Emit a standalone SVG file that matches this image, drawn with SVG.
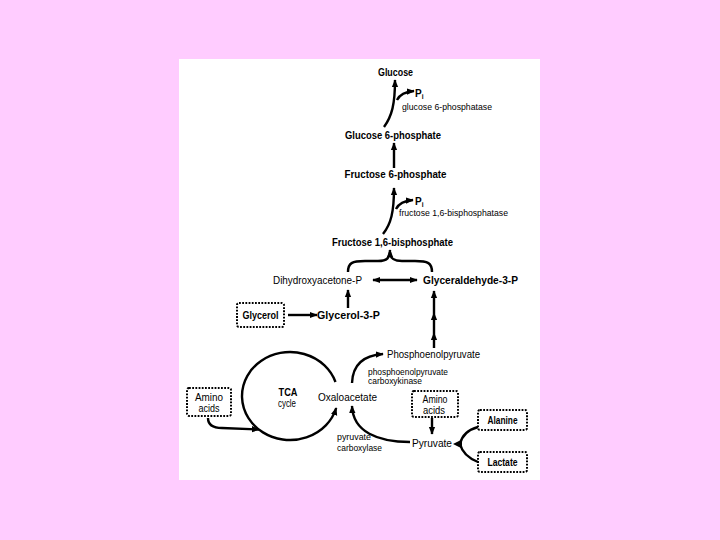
<svg xmlns="http://www.w3.org/2000/svg" width="720" height="540" viewBox="0 0 720 540">
<defs>
<style>
text{font-family:"Liberation Sans",Arial,sans-serif;fill:#000}
.b{font-weight:bold;font-size:10px}
.r{font-size:10.5px}
.s{font-size:8.6px}
.m{text-anchor:middle}
.box{fill:#fff;stroke:#000;stroke-width:2;stroke-dasharray:1.8 1.4}
.c{fill:none;stroke:#000;stroke-width:2.4}
</style>
<marker id="ah" viewBox="0 0 10 10" refX="9" refY="5" markerWidth="8" markerHeight="8" markerUnits="userSpaceOnUse" orient="auto"><path d="M0,1 L10,5 L0,9 z"/></marker>
<marker id="as" viewBox="0 0 10 10" refX="9" refY="5" markerWidth="8" markerHeight="8" markerUnits="userSpaceOnUse" orient="auto-start-reverse"><path d="M0,1 L10,5 L0,9 z"/></marker>
</defs>
<rect width="720" height="540" fill="#FFCCFF"/>
<rect x="179" y="59" width="361" height="421" fill="#fff"/>

<g id="connectors">
<path class="c" d="M384 127 C392 116 395 104 395 80" marker-end="url(#ah)"/>
<path class="c" d="M397 100 Q401 92 414 91" marker-end="url(#ah)"/>
<path class="c" d="M394 168 L394 143" marker-end="url(#ah)"/>
<path class="c" d="M383 234 C391 224 394 212 394 188" marker-end="url(#ah)"/>
<path class="c" d="M396 209 Q400 201 413 200" marker-end="url(#ah)"/>
<path class="c" d="M348 272 C348 263 352 261 365 261 L378 261 C387 261 390 258 390 250" marker-end="url(#ah)"/>
<path class="c" d="M432 272 C432 263 428 261 415 261 L402 261 C393 261 390 258 390 252"/>
<path class="c" d="M373 280 L417 280" marker-start="url(#as)" marker-end="url(#as)"/>
<path class="c" d="M348 308 L348 290" marker-end="url(#ah)"/>
<path class="c" d="M288 315 L317 315" marker-end="url(#ah)"/>
<path class="c" d="M434 348 L434 333 L434 313 L434 291" marker-mid="url(#ah)" marker-end="url(#ah)"/>
<path class="c" d="M335.5 382 A48 44 0 1 0 336.2 408" marker-end="url(#ah)"/>
<path class="c" d="M208 418 Q208 428 222 428 L259 429.5" marker-end="url(#ah)"/>
<path class="c" d="M352 383 Q353 356 383 354" marker-end="url(#ah)"/>
<path class="c" d="M410 442 C378 442 353 432 352 406" marker-end="url(#ah)"/>
<path class="c" d="M432 418 L432 434" marker-end="url(#ah)"/>
<path class="c" d="M478 427 Q463 431 460 444"/>
<path class="c" d="M478 462 Q463 456 460 444"/>
<polygon points="453,444 462,439.5 462,448.5" fill="#000"/>
</g>

<g id="glucose"><text class="b m" x="395.5" y="75.5" textLength="35" lengthAdjust="spacingAndGlyphs">Glucose</text></g>
<g id="pi1"><text class="b" x="415" y="96.5">P<tspan font-size="6.5" dy="2">i</tspan></text></g>
<g id="g6pase"><text class="s" x="402" y="110" textLength="90" lengthAdjust="spacingAndGlyphs">glucose 6-phosphatase</text></g>
<g id="g6p"><text class="b m" x="393" y="138.5" textLength="96" lengthAdjust="spacingAndGlyphs">Glucose 6-phosphate</text></g>
<g id="f6p"><text class="b m" x="395.5" y="178" textLength="102" lengthAdjust="spacingAndGlyphs">Fructose 6-phosphate</text></g>
<g id="pi2"><text class="b" x="415" y="204.5">P<tspan font-size="6.5" dy="2">i</tspan></text></g>
<g id="fbpase"><text class="s" x="399" y="216" textLength="109" lengthAdjust="spacingAndGlyphs">fructose 1,6-bisphosphatase</text></g>
<g id="f16bp"><text class="b m" x="392.5" y="245.5" textLength="121" lengthAdjust="spacingAndGlyphs">Fructose 1,6-bisphosphate</text></g>
<g id="dhap"><text class="r" x="273" y="283.5" textLength="89" lengthAdjust="spacingAndGlyphs">Dihydroxyacetone-P</text></g>
<g id="gap"><text class="b" x="423" y="283.5" textLength="95" lengthAdjust="spacingAndGlyphs">Glyceraldehyde-3-P</text></g>
<g id="glycerol"><rect class="box" x="237" y="303" width="47" height="24" rx="2"/><text class="b m" x="260.5" y="318.5" textLength="36" lengthAdjust="spacingAndGlyphs">Glycerol</text></g>
<g id="g3p"><text class="b" x="317" y="318.5" textLength="63" lengthAdjust="spacingAndGlyphs">Glycerol-3-P</text></g>
<g id="pep"><text class="r" x="387" y="357.5" textLength="93" lengthAdjust="spacingAndGlyphs">Phosphoenolpyruvate</text></g>
<g id="pepck"><text class="s" x="368" y="374.5" textLength="80" lengthAdjust="spacingAndGlyphs">phosphoenolpyruvate</text><text class="s" x="368" y="383.5" textLength="54" lengthAdjust="spacingAndGlyphs">carboxykinase</text></g>
<g id="oaa"><text class="r" x="318" y="400.5" textLength="59" lengthAdjust="spacingAndGlyphs">Oxaloacetate</text></g>
<g id="tca"><text class="b m" x="288" y="395.5" textLength="19" lengthAdjust="spacingAndGlyphs">TCA</text><text class="r m" x="287" y="407" font-size="9.5" textLength="18" lengthAdjust="spacingAndGlyphs">cycle</text></g>
<g id="amino1"><rect class="box" x="187" y="388" width="44" height="28" rx="2"/><text class="r m" x="209" y="401" textLength="28" lengthAdjust="spacingAndGlyphs">Amino</text><text class="r m" x="209" y="411.5" textLength="21" lengthAdjust="spacingAndGlyphs">acids</text></g>
<g id="pc"><text class="s" x="337" y="440" textLength="34" lengthAdjust="spacingAndGlyphs">pyruvate</text><text class="s" x="337" y="450.5" textLength="45" lengthAdjust="spacingAndGlyphs">carboxylase</text></g>
<g id="amino2"><rect class="box" x="412" y="391" width="46" height="26" rx="2"/><text class="r m" x="435" y="403" textLength="25" lengthAdjust="spacingAndGlyphs">Amino</text><text class="r m" x="434" y="413.5" textLength="22" lengthAdjust="spacingAndGlyphs">acids</text></g>
<g id="pyruvate"><text class="r" x="412" y="446.5" textLength="40" lengthAdjust="spacingAndGlyphs">Pyruvate</text></g>
<g id="alanine"><rect class="box" x="478" y="410" width="49" height="20" rx="2"/><text class="b m" x="502.5" y="423.5" textLength="30" lengthAdjust="spacingAndGlyphs">Alanine</text></g>
<g id="lactate"><rect class="box" x="478" y="452" width="49" height="20" rx="2"/><text class="b m" x="502.5" y="465.5" textLength="30" lengthAdjust="spacingAndGlyphs">Lactate</text></g>
</svg>
